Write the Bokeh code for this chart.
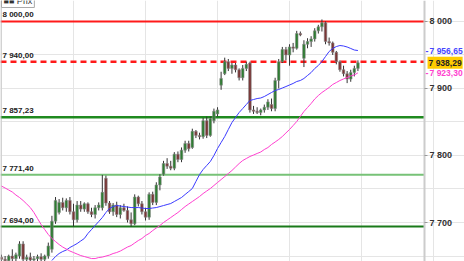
from bokeh.plotting import figure
from bokeh.models import Span, Label, Range1d, FixedTicker, ColumnDataSource, LinearAxis
from bokeh.embed import file_html
from bokeh.resources import INLINE

opens = [7648,7645,7643,7650,7646,7650,7668,7645,7648,7644,7646,7649,7645,7650,7660,7702,
         7715,7730,7722,7733,7716,7704,7726,7720,7728,7716,7712,7722,7722,7766,7729,7716,
         7726,7712,7722,7718,7704,7698,7738,7728,7716,7708,7742,7730,7756,7772,7788,7784,
         7781,7802,7794,7808,7818,7812,7836,7830,7828,7852,7830,7852,7862,7905,7922,7940,
         7930,7935,7928,7916,7930,7938,7868,7866,7864,7868,7872,7876,7870,7912,7940,7958,
         7950,7962,7960,7982,7945,7966,7970,7974,7986,7992,7998,7970,7968,7954,7940,7928,
         7922,7914,7924,7930]
highs = [7652,7650,7652,7660,7655,7672,7672,7652,7655,7650,7652,7654,7652,7670,7710,7738,
         7735,7737,7736,7738,7728,7732,7732,7730,7730,7722,7726,7730,7771,7770,7732,7729,
         7731,7726,7728,7724,7715,7742,7740,7732,7722,7745,7746,7760,7772,7792,7796,7792,
         7805,7806,7812,7822,7822,7840,7838,7834,7856,7858,7858,7870,7872,7925,7946,7944,
         7938,7938,7930,7935,7940,7940,7874,7872,7870,7876,7884,7885,7916,7944,7962,7962,
         7966,7968,7986,7985,7972,7975,7978,7990,7995,8003,8000,7976,7970,7956,7942,7934,
         7926,7928,7934,7942]
lows = [7640,7638,7640,7642,7640,7646,7640,7640,7640,7638,7640,7641,7642,7646,7655,7698,
        7712,7718,7716,7712,7694,7700,7716,7716,7713,7708,7706,7718,7718,7725,7713,7710,
        7708,7706,7716,7700,7694,7696,7724,7712,7703,7704,7726,7726,7748,7770,7780,7778,
        7778,7790,7790,7804,7806,7810,7826,7824,7825,7826,7828,7848,7858,7898,7920,7926,
        7922,7924,7912,7912,7926,7864,7862,7862,7860,7864,7868,7866,7866,7900,7938,7942,
        7934,7954,7958,7978,7932,7960,7962,7970,7982,7985,7966,7964,7950,7936,7925,7918,
        7908,7910,7918,7926]
closes = [7645,7643,7650,7646,7652,7668,7645,7648,7644,7646,7649,7645,7650,7665,7702,7733,
          7730,7722,7733,7716,7704,7726,7720,7728,7716,7712,7722,7726,7745,7729,7716,7726,
          7712,7722,7718,7704,7698,7738,7728,7716,7708,7742,7730,7756,7768,7788,7784,7781,
          7802,7794,7808,7818,7810,7836,7830,7828,7852,7830,7855,7866,7868,7915,7940,7930,
          7935,7928,7916,7930,7936,7868,7866,7864,7868,7872,7880,7870,7912,7940,7958,7950,
          7962,7960,7982,7980,7966,7970,7974,7986,7992,7998,7970,7968,7954,7940,7928,7922,
          7914,7924,7930,7938.29]

ma_short = [None]*14 + [
    7643.3,7649.2,7653.7,7656.7,7658.9,7662.7,7665.6,7668.6,7672.4,7676.1,7683.6,7689.5,
    7695.5,7701.4,7707.4,7714.9,7720.9,7723.8,7725.3,7724.6,7723.8,7723.1,7722.3,7722.3,
    7722.3,7721.6,7720.9,7720.9,7721.6,7722.3,7723.8,7725.3,7726.8,7728.3,7731.3,7734.3,
    7737.3,7741.8,7746.2,7750.7,7761.2,7771.6,7779.1,7785.1,7791.0,7800.0,7810.4,7819.4,
    7828.3,7838.8,7849.2,7856.7,7864.1,7870.1,7876.1,7882.1,7883.5,7885.0,7885.8,7888.0,
    7891.0,7894.0,7897.0,7898.5,7900.7,7902.9,7905.2,7907.5,7910.4,7911.9,7914.9,7919.4,
    7923.8,7929.8,7934.3,7940.3,7947.7,7955.2,7959.7,7962.6,7964.1,7963.4,7961.9,7959.7,
    7957.4,7956.65]
ma_long = [
    7754.4,7751.5,7748.5,7745.5,7741.0,7737.3,7732.8,7727.6,7722.3,7714.9,7705.9,7697.0,
    7689.5,7682.1,7676.1,7671.6,7667.1,7663.4,7660.4,7657.4,7655.2,7652.9,7650.7,7649.2,
    7647.7,7646.2,7646.2,7647.7,7648.4,7649.9,7651.4,7653.7,7655.2,7657.4,7660.4,7663.4,
    7665.6,7669.4,7673.1,7676.1,7680.6,7683.6,7688.0,7691.8,7695.5,7700.0,7703.7,7707.4,
    7711.2,7714.9,7719.4,7723.8,7727.6,7731.3,7735.0,7738.8,7743.2,7747.0,7750.7,7755.2,
    7759.7,7764.1,7768.6,7773.1,7777.6,7782.8,7788.0,7792.5,7795.5,7798.5,7800.7,7803.0,
    7805.2,7808.9,7811.9,7816.4,7820.1,7823.9,7828.3,7833.6,7838.8,7844.7,7850.7,7858.2,
    7865.6,7871.6,7877.6,7884.3,7889.5,7894.0,7897.7,7901.5,7906.0,7908.9,7911.9,7914.2,
    7916.4,7918.7,7920.2,7923.3]

levels = [8000.00, 7940.00, 7857.23, 7771.40, 7694.00]
level_labels = ["8 000,00", "7 940,00", "7 857,23", "7 771,40", "7 694,00"]
level_colors = ["#ff1a1a", "#ff1a1a", "#1f8a1f", "#77c277", "#1a7a1a"]
level_widths = [2, 2.5, 2.5, 2, 2]
level_dash = ["solid", "6 4", "solid", "solid", "solid"]

y_ticks = [7700, 7800, 7900, 8000]
y_tick_labels = ["7 700", "7 800", "7 900", "8 000"]

tag_values = [ma_short[-1], closes[-1], ma_long[-1]]
tag_texts = ["7 956,65", "7 938,29", "7 923,30"]

idx = list(range(len(closes)))

X0, XAXIS, X1 = -0.28, 117.5, 128.6

p = figure(width=464, height=261, frame_width=464, frame_height=261,
           output_backend="svg", toolbar_location=None,
           x_axis_location=None, y_axis_location=None,
           x_range=Range1d(X0, X1), y_range=Range1d(7641.8, 8031.3),
           min_border=0)
p.outline_line_color = None
p.background_fill_color = "white"
p.border_fill_color = "white"

yax = LinearAxis(fixed_location=XAXIS)
yax.ticker = FixedTicker(ticks=y_ticks)
yax.major_label_overrides = {t: l for t, l in zip(y_ticks, y_tick_labels)}
yax.minor_tick_line_color = None
yax.major_tick_in = 0
yax.major_tick_out = 3
yax.major_tick_line_color = "#999999"
yax.axis_line_color = "#cccccc"
yax.axis_line_width = 2
yax.major_label_text_font = "Liberation Sans"
yax.major_label_text_font_style = "bold"
yax.major_label_text_font_size = "9px"
yax.major_label_text_color = "#333333"
yax.major_label_standoff = 2
p.add_layout(yax, "right")

p.add_layout(Span(location=-0.15, dimension="height", line_color="#bbbbbb", line_width=1))

for lv, lab, col, w, d in zip(levels, level_labels, level_colors, level_widths, level_dash):
    p.segment(x0=[X0], y0=[lv], x1=[XAXIS], y1=[lv], line_color=col,
              line_width=w, line_dash=d)
    p.add_layout(Label(x=2, x_units="screen", y=lv, text=lab, y_offset=2,
                       text_baseline="bottom", text_font="Liberation Sans",
                       text_font_style="bold", text_font_size="8px",
                       text_color="#222222"))

inc = [c >= o for o, c in zip(opens, closes)]
src = ColumnDataSource(dict(
    x=idx, o=opens, h=highs, l=lows, c=closes,
    top=[max(o, c) for o, c in zip(opens, closes)],
    bot=[min(o, c) for o, c in zip(opens, closes)],
    col=["#2e7d32" if u else "#7a3535" for u in inc]))
p.segment(x0="x", y0="h", x1="x", y1="l", source=src, line_color="#333333", line_width=1)
p.vbar(x="x", top="top", bottom="bot", width=0.72, source=src,
       fill_color="col", line_color="#888888", line_width=0.6)

p.line(idx, [float("nan") if v is None else v for v in ma_short],
       line_color="#3a3aff", line_width=1)
p.line(idx, ma_long, line_color="#ff3fcf", line_width=1)

# right-side value tags
tag_colors = ["#4646ff", "#222222", "#ff3fcf"]
tag_bg = [None, "#ffcc00", None]
for v, t, c, bg in zip(tag_values, tag_texts, tag_colors, tag_bg):
    if bg is None:
        p.add_layout(Label(x=XAXIS, y=v, x_offset=1, text="-",
                           text_baseline="middle", text_font_size="9px", text_color=c,
                           text_font="Liberation Sans", text_font_style="bold"))
        p.add_layout(Label(x=XAXIS, y=v, x_offset=5, text=t,
                           text_baseline="middle", text_font_size="8.5px", text_color=c,
                           text_font="Liberation Sans", text_font_style="bold"))
    else:
        p.add_layout(Label(x=XAXIS, y=v, x_offset=3, text=t,
                           text_baseline="middle", text_font_size="8.5px", text_color=c,
                           text_font="Liberation Sans", text_font_style="bold",
                           background_fill_color=bg, padding=1))

# legend box partly above the top edge
p.add_layout(Label(x=1, y=254, x_units="screen", y_units="screen", text="■■ Prix",
                   text_baseline="bottom", text_font_size="9px", text_color="#333333",
                   text_font="Liberation Sans",
                   background_fill_color="white", border_line_color="#aaaaaa",
                   padding=2))

open("out.html", "w").write(file_html(p, INLINE))
